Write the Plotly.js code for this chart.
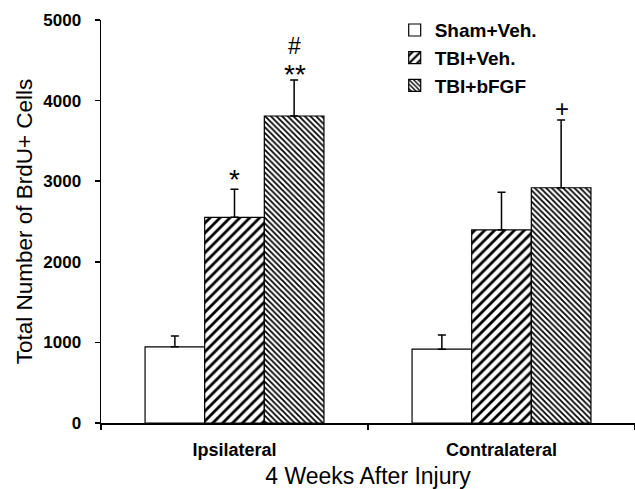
<!DOCTYPE html>
<html>
<head>
<meta charset="utf-8">
<script src="https://cdn.plot.ly/plotly-3.0.1.min.js"></script>
<style>html,body{margin:0;padding:0;background:#fff;}#chart{width:635px;height:489px;}</style>
</head>
<body>
<div id="chart"></div>
<script>
// ---- data ----
var categories = ['Ipsilateral', 'Contralateral'];
var seriesNames = ['Sham+Veh.', 'TBI+Veh.', 'TBI+bFGF'];
var shamVeh = [945, 916];
var shamVehErr = [135, 176];
var tbiVeh = [2552, 2395];
var tbiVehErr = [348, 467];
var tbiBfgf = [3809, 2919];
var tbiBfgfErr = [447, 840];
var yTickVals = [0, 1000, 2000, 3000, 4000, 5000];
// significance marks: category, series index, y value, text, font size
var sigCats = ['Ipsilateral', 'Ipsilateral', 'Ipsilateral', 'Contralateral'];
var sigSeries = [1, 2, 2, 2];
var sigY = [3015, 4324, 4677, 3908];
var sigText = ['*', '**', '#', '+'];
var sigSize = [28, 28, 23, 24];

var FONT = 'Liberation Sans, Arial, Helvetica, sans-serif';

function mkTrace(name, vals, errs, pattern) {
  return {
    type: 'bar', name: name, x: categories, y: vals,
    marker: {color: 'white', line: {color: 'black', width: 1.2}, pattern: pattern},
    error_y: {type: 'data', symmetric: false, array: errs, arrayminus: vals.map(function(){return 0;}),
              color: 'black', thickness: 1.5, width: 4},
    hoverinfo: 'none'
  };
}

var traces = [
  mkTrace(seriesNames[0], shamVeh, shamVehErr, {shape: ''}),
  mkTrace(seriesNames[1], tbiVeh, tbiVehErr, {shape: '/', size: 7, solidity: 0.4, fgcolor: 'black', bgcolor: 'white', fillmode: 'replace'}),
  mkTrace(seriesNames[2], tbiBfgf, tbiBfgfErr, {shape: '\\', size: 4, solidity: 0.45, fgcolor: 'black', bgcolor: 'white', fillmode: 'replace'})
];

var barW = 60; // px offset between adjacent bars in a group
var annotations = sigText.map(function(t, i) {
  return {x: sigCats[i], y: sigY[i], xref: 'x', yref: 'y', text: t, showarrow: false,
          xshift: (sigSeries[i] - 1) * barW, borderpad: 0,
          font: {family: FONT, size: sigSize[i], color: 'black'}};
});

var layout = {
  width: 635, height: 489,
  margin: {l: 101, r: 0, t: 20, b: 66, pad: 0},
  paper_bgcolor: 'white', plot_bgcolor: 'white',
  barmode: 'group', bargap: 0.33, bargroupgap: 0,
  showlegend: true,
  legend: {x: 0.55, y: 1.022, xanchor: 'left', yanchor: 'top', bgcolor: 'rgba(0,0,0,0)',
           font: {family: FONT, size: 19, color: 'black', weight: 'bold'}, itemwidth: 30},
  xaxis: {type: 'category', range: [-0.5, 1.5], showline: true, linecolor: 'black', linewidth: 1.5,
          ticks: 'outside', tickson: 'boundaries', ticklen: 5, tickcolor: 'black', tickwidth: 1.5,
          ticklabelstandoff: 10,
          tickfont: {family: FONT, size: 18, color: 'black', weight: 'bold'},
          showgrid: false, zeroline: false,
          title: {text: '4 Weeks After Injury', standoff: 9, font: {family: FONT, size: 23, color: 'black'}}},
  yaxis: {range: [0, 5000], tickvals: yTickVals, showline: true, linecolor: 'black', linewidth: 1.5,
          ticks: 'outside', ticklen: 5, tickcolor: 'black', tickwidth: 1.5, ticklabelstandoff: 10,
          tickfont: {family: FONT, size: 17, color: 'black', weight: 'bold'},
          showgrid: false, zeroline: false,
          title: {text: 'Total Number of BrdU+ Cells', standoff: 4, font: {family: FONT, size: 22.5, color: 'black'}}},
  annotations: annotations
};

Plotly.newPlot('chart', traces, layout, {staticPlot: true, displayModeBar: false});
</script>
</body>
</html>
